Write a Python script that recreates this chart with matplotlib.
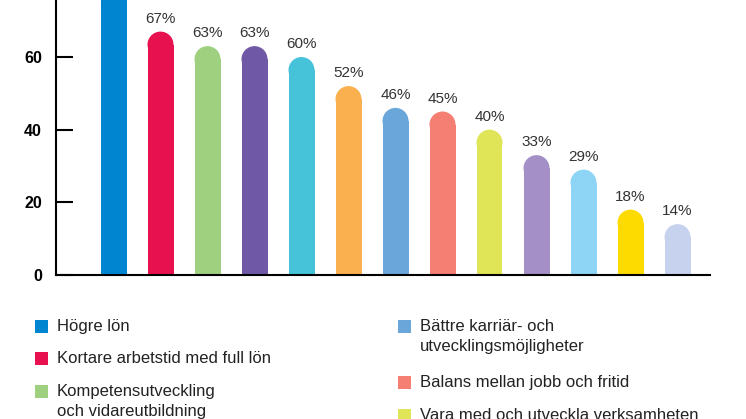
import matplotlib
matplotlib.use("Agg")
import matplotlib.pyplot as plt
from matplotlib.patches import Ellipse, Rectangle

values = [80, 67, 63, 63, 60, 52, 46, 45, 40, 33, 29, 18, 14]
labels = ["", "67%", "63%", "63%", "60%", "52%", "46%", "45%", "40%", "33%", "29%", "18%", "14%"]
colors = ["#0086d1", "#e8114f", "#9ed07f", "#6f58a5", "#46c2d9", "#fbb04f", "#6aa6da",
          "#f47f72", "#e0e457", "#a48fc6", "#8dd4f5", "#fedb00", "#c7d2ef"]
yticks = [0, 20, 40, 60]
legend_col1 = [("Högre lön", 0), ("Kortare arbetstid med full lön", 1),
               ("Kompetensutveckling\noch vidareutbildning", 2)]
legend_col2 = [("Bättre karriär- och\nutvecklingsmöjligheter", 6),
               ("Balans mellan jobb och fritid", 7),
               ("Vara med och utveckla verksamheten", 8)]

plt.rcParams["font.family"] = "Liberation Sans"
W, H = 746, 419
fig = plt.figure(figsize=(W/100, H/100), dpi=100)
ax = fig.add_axes([56/W, 1-275/H, (710-56)/W, 275/H])
ymax = 275/3.633
ax.set_ylim(0, ymax)
ax.set_xlim((56-113.5)/47, (710-113.5)/47)

bw = 26/47
ry = 13/3.633
for i, (v, c) in enumerate(zip(values, colors)):
    ax.bar(i, v-ry, width=bw, color=c, align="center", lw=0)
    ax.add_patch(Ellipse((i, v-ry), bw, 2*ry, facecolor=c, lw=0))
    if labels[i]:
        ax.text(i, v+1.6, labels[i], ha="center", va="bottom", fontsize=11, color="#333333")

for s in ["top", "right"]:
    ax.spines[s].set_visible(False)
ax.spines["left"].set_linewidth(1.5)
ax.spines["bottom"].set_linewidth(1.5)
ax.set_xticks([])
ax.set_yticks(yticks)
ax.tick_params(axis="y", direction="in", length=12, width=1.5, pad=10, labelsize=11.5)
for t in ax.get_yticklabels():
    t.set_fontweight("bold")

def legend(items, xs, xt, ys):
    for (txt, ci), y in zip(items, ys):
        fig.patches.append(Rectangle((xs/W, 1-(y+6)/H), 13/W, 13/H, transform=fig.transFigure,
                                     color=colors[ci], lw=0))
        fig.text(xt/W, 1-(y-8)/H, txt, fontsize=12, va="top", ha="left",
                 color="#222222", linespacing=1.45)

legend(legend_col1, 35, 57, [327, 359, 392])
legend(legend_col2, 398, 420, [327, 383, 416])

fig.savefig("out.png", dpi=100)
